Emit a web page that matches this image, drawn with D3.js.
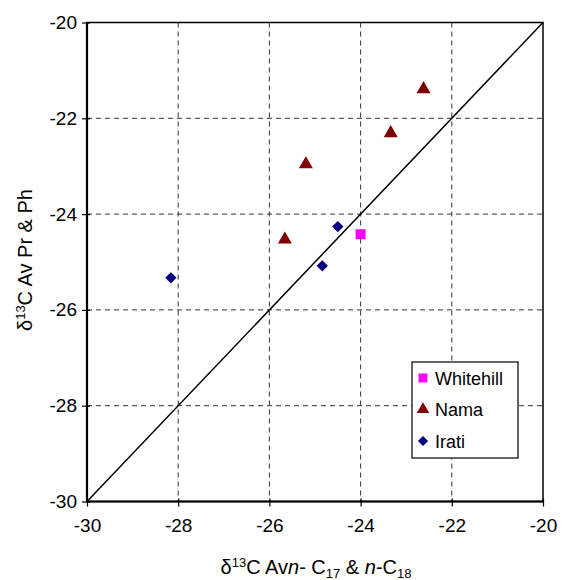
<!DOCTYPE html>
<html>
<head>
<meta charset="utf-8">
<script src="https://cdn.jsdelivr.net/npm/d3@7"></script>
<style>
  body { margin: 0; background: #fff; }
  text { font-family: "Liberation Sans", Arial, sans-serif; }
</style>
</head>
<body>
<div id="chart"></div>
<script>
// data
var whitehill_x = [-24.0];
var whitehill_y = [-24.42];
var nama_x = [-25.66, -25.2, -23.34, -22.62];
var nama_y = [-24.53, -22.96, -22.31, -21.39];
var irati_x = [-28.16, -24.84, -24.5];
var irati_y = [-25.33, -25.08, -24.26];
var ticks = [-30, -28, -26, -24, -22, -20];

var series = [
  {name: "Whitehill", xs: whitehill_x, ys: whitehill_y, color: "#ff00ff", symbol: d3.symbolSquare, size: 100, rot: 0},
  {name: "Nama",      xs: nama_x,      ys: nama_y,      color: "#800000", symbol: d3.symbolTriangle, size: 85, rot: 0},
  {name: "Irati",     xs: irati_x,     ys: irati_y,     color: "#000080", symbol: d3.symbolSquare, size: 64, rot: 45}
];

var svg = d3.select("#chart").append("svg")
  .attr("width", 565).attr("height", 580);

var m_left = 87, m_right = 543, m_top = 22.5, m_bottom = 501.5;

var scalex = d3.scaleLinear().domain([-30, -20]).range([m_left, m_right]);
var scaley = d3.scaleLinear().domain([-30, -20]).range([m_bottom, m_top]);

// grid
var grid = svg.append("g");
grid.selectAll("line.gx")
  .data(ticks.slice(1, -1))
  .enter().append("line")
  .attr("x1", function(d) { return scalex(d); })
  .attr("x2", function(d) { return scalex(d); })
  .attr("y1", m_top).attr("y2", m_bottom)
  .attr("stroke", "#333").attr("stroke-width", 1)
  .attr("stroke-dasharray", "5,4");
grid.selectAll("line.gy")
  .data(ticks.slice(1, -1))
  .enter().append("line")
  .attr("y1", function(d) { return scaley(d); })
  .attr("y2", function(d) { return scaley(d); })
  .attr("x1", m_left).attr("x2", m_right)
  .attr("stroke", "#333").attr("stroke-width", 1)
  .attr("stroke-dasharray", "5,4");

// 1:1 line
svg.append("line")
  .attr("x1", scalex(-30)).attr("y1", scaley(-30))
  .attr("x2", scalex(-20)).attr("y2", scaley(-20))
  .attr("stroke", "black").attr("stroke-width", 1.5);

// frame
svg.append("rect")
  .attr("x", m_left).attr("y", m_top)
  .attr("width", m_right - m_left).attr("height", m_bottom - m_top)
  .attr("fill", "none").attr("stroke", "black").attr("stroke-width", 1.5);
svg.append("line").attr("x1", m_left).attr("x2", m_left).attr("y1", m_top).attr("y2", m_bottom + 1)
  .attr("stroke", "black").attr("stroke-width", 2.2);
svg.append("line").attr("x1", m_left - 1).attr("x2", m_right).attr("y1", m_bottom).attr("y2", m_bottom)
  .attr("stroke", "black").attr("stroke-width", 2.2);

// axes
var fmt = function(d) { return String(d); };
var x_axis = d3.axisBottom(scalex).tickValues(ticks).tickFormat(fmt).tickSizeInner(5).tickSizeOuter(0).tickPadding(12);
var y_axis = d3.axisLeft(scaley).tickValues(ticks).tickFormat(fmt).tickSizeInner(5).tickSizeOuter(0).tickPadding(5);

var gx = svg.append("g")
  .attr("transform", "translate(0," + m_bottom + ")")
  .call(x_axis);
var gy = svg.append("g")
  .attr("transform", "translate(" + m_left + ",0)")
  .call(y_axis);
[gx, gy].forEach(function(g) {
  g.select(".domain").remove();
  g.selectAll(".tick line").attr("stroke", "black").attr("stroke-width", 1.2);
  g.selectAll(".tick text")
    .attr("fill", "black")
    .style("font-size", "19px")
    .style("font-family", "'Liberation Sans', Arial, sans-serif");
});
// ticks cross slightly inside the frame
gx.selectAll(".tick line").attr("y1", -3);
gy.selectAll(".tick line").attr("x1", 3);

// points
series.forEach(function(s) {
  svg.selectAll("path.p-" + s.name)
    .data(s.xs.map(function(v, i) { return [v, s.ys[i]]; }))
    .enter().append("path")
    .attr("d", d3.symbol().type(s.symbol).size(s.size))
    .attr("transform", function(d) { return "translate(" + scalex(d[0]) + "," + scaley(d[1]) + ") rotate(" + s.rot + ")"; })
    .attr("fill", s.color);
});

// legend
var lg = svg.append("g").attr("transform", "translate(412,362)");
lg.append("rect")
  .attr("width", 106).attr("height", 96)
  .attr("fill", "white").attr("stroke", "black").attr("stroke-width", 1.2);
series.forEach(function(s, i) {
  var yy = 16 + i * 31.5;
  lg.append("path")
    .attr("d", d3.symbol().type(s.symbol).size(s.size * 0.8))
    .attr("transform", "translate(11," + yy + ") rotate(" + s.rot + ")")
    .attr("fill", s.color);
  lg.append("text")
    .attr("x", 23).attr("y", yy + 6.5)
    .style("font-size", "18px")
    .text(s.name);
});

// axis titles
var xt = svg.append("text")
  .attr("x", 316).attr("y", 574)
  .attr("text-anchor", "middle")
  .style("font-size", "20px");
xt.append("tspan").text("\u03b4");
xt.append("tspan").attr("dy", -7).style("font-size", "13px").text("13");
xt.append("tspan").attr("dy", 7).text("C Av");
xt.append("tspan").style("font-style", "italic").text("n");
xt.append("tspan").text("- C");
xt.append("tspan").attr("dy", 4).style("font-size", "13px").text("17");
xt.append("tspan").attr("dy", -4).text(" & ");
xt.append("tspan").style("font-style", "italic").text("n");
xt.append("tspan").text("-C");
xt.append("tspan").attr("dy", 4).style("font-size", "13px").text("18");

var yt = svg.append("text")
  .attr("transform", "translate(32,260) rotate(-90)")
  .attr("text-anchor", "middle")
  .style("font-size", "20px");
yt.append("tspan").text("\u03b4");
yt.append("tspan").attr("dy", -7).style("font-size", "13px").text("13");
yt.append("tspan").attr("dy", 7).text("C Av Pr & Ph");
</script>
</body>
</html>
